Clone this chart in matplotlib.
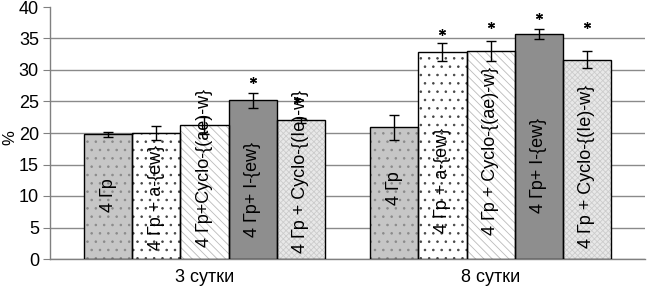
import matplotlib.pyplot as plt
import numpy as np

plt.rcParams['font.family'] = ['Liberation Sans', 'DejaVu Sans']
plt.rcParams['hatch.linewidth'] = 0.6

# data
days = ['3 сутки', '8 сутки']
groups = ['4 Гр', '4 Гр + a-{ew}', '4 Гр+Cyclo-{(ae)-w}', '4 Гр+ I-{ew}', '4 Гр + Cyclo-{(Ie)-w}']
labels_day8 = ['4 Гр', '4 Гр + a-{ew}', '4 Гр + Cyclo-{(ae)-w}', '4 Гр+ I-{ew}', '4 Гр + Cyclo-{(Ie)-w}']
values = [[19.8, 20.0, 21.2, 25.2, 22.0],
          [20.9, 32.8, 33.0, 35.7, 31.6]]
errors = [[0.4, 1.05, 1.4, 1.2, 0.45],
          [2.0, 1.45, 1.65, 0.8, 1.35]]
# significance stars (True = star drawn) and their heights
stars = [[False, False, False, True, True],
         [False, True, True, True, True]]
star_y = [[0, 0, 0, 28.4, 25.2],
          [0, 36.1, 37.2, 38.5, 37.2]]
# where each in-bar label starts (bottom end, in % units)
label_base = [[7.5, 1.4, 1.9, 3.5, 0.95],
              [8.6, 4.1, 3.8, 7.3, 1.75]]

# bar looks: face colour, hatch, hatch colour
faces = ['#c6c6c6', 'white', 'white', '#8e8e8e', '#e8e8e8']
hatches = ['..', '..', '\\\\\\\\', None, 'xxxxxx']
hatch_cols = ['#8a8a8a', '#444444', '#bbbbbb', None, '#cccccc']

fig, ax = plt.subplots(figsize=(6.47, 2.90), dpi=100)
fig.subplots_adjust(left=50 / 647, right=645 / 647, bottom=31 / 290, top=283 / 290)

width = 0.168
x = np.arange(len(days))

for i in range(len(groups)):
    pos = x + (i - 2) * width
    vals = [values[d][i] for d in range(len(days))]
    errs = [errors[d][i] for d in range(len(days))]
    if hatches[i]:
        ax.bar(pos, vals, width, color=faces[i], hatch=hatches[i],
               edgecolor=hatch_cols[i], linewidth=0, zorder=2)
    else:
        ax.bar(pos, vals, width, color=faces[i], linewidth=0, zorder=2)
    ax.bar(pos, vals, width, fill=False, edgecolor='black', linewidth=1, zorder=3)
    ax.errorbar(pos, vals, yerr=errs, fmt='none', ecolor='black',
                elinewidth=1, capsize=3.6, capthick=1, zorder=4)
    for d in range(len(days)):
        txt = groups[i] if d == 0 else labels_day8[i]
        ax.text(pos[d], label_base[d][i], txt, rotation=90, ha='center',
                va='bottom', fontsize=13, zorder=5)
        if stars[d][i]:
            dx = -0.012 if (d == 0 and i == 4) else 0
            ax.plot(pos[d] + dx, star_y[d][i], marker=(6, 2, 0), ms=5,
                    color='black', mew=0.9, zorder=5)

ax.set_ylim(0, 40)
ax.set_xlim(-0.54, 1.54)
ax.set_yticks(range(0, 41, 5))
ax.tick_params(axis='y', labelsize=13, length=5, color='#808080', pad=3)
ax.set_xticks(x)
ax.set_xticklabels(days, fontsize=13)
ax.tick_params(axis='x', length=0, pad=7)
ax.set_ylabel('%', fontsize=12)
ax.yaxis.set_label_coords(-0.055, 0.48)

ax.yaxis.grid(True, color='#8a8a8a', linewidth=1)
ax.set_axisbelow(True)
ax.yaxis.get_gridlines()[-1].set_visible(False)
for s in ['top', 'right']:
    ax.spines[s].set_visible(False)
for s in ['left', 'bottom']:
    ax.spines[s].set_color('#808080')
    ax.spines[s].set_linewidth(1)

plt.savefig('out.png', dpi=100)
